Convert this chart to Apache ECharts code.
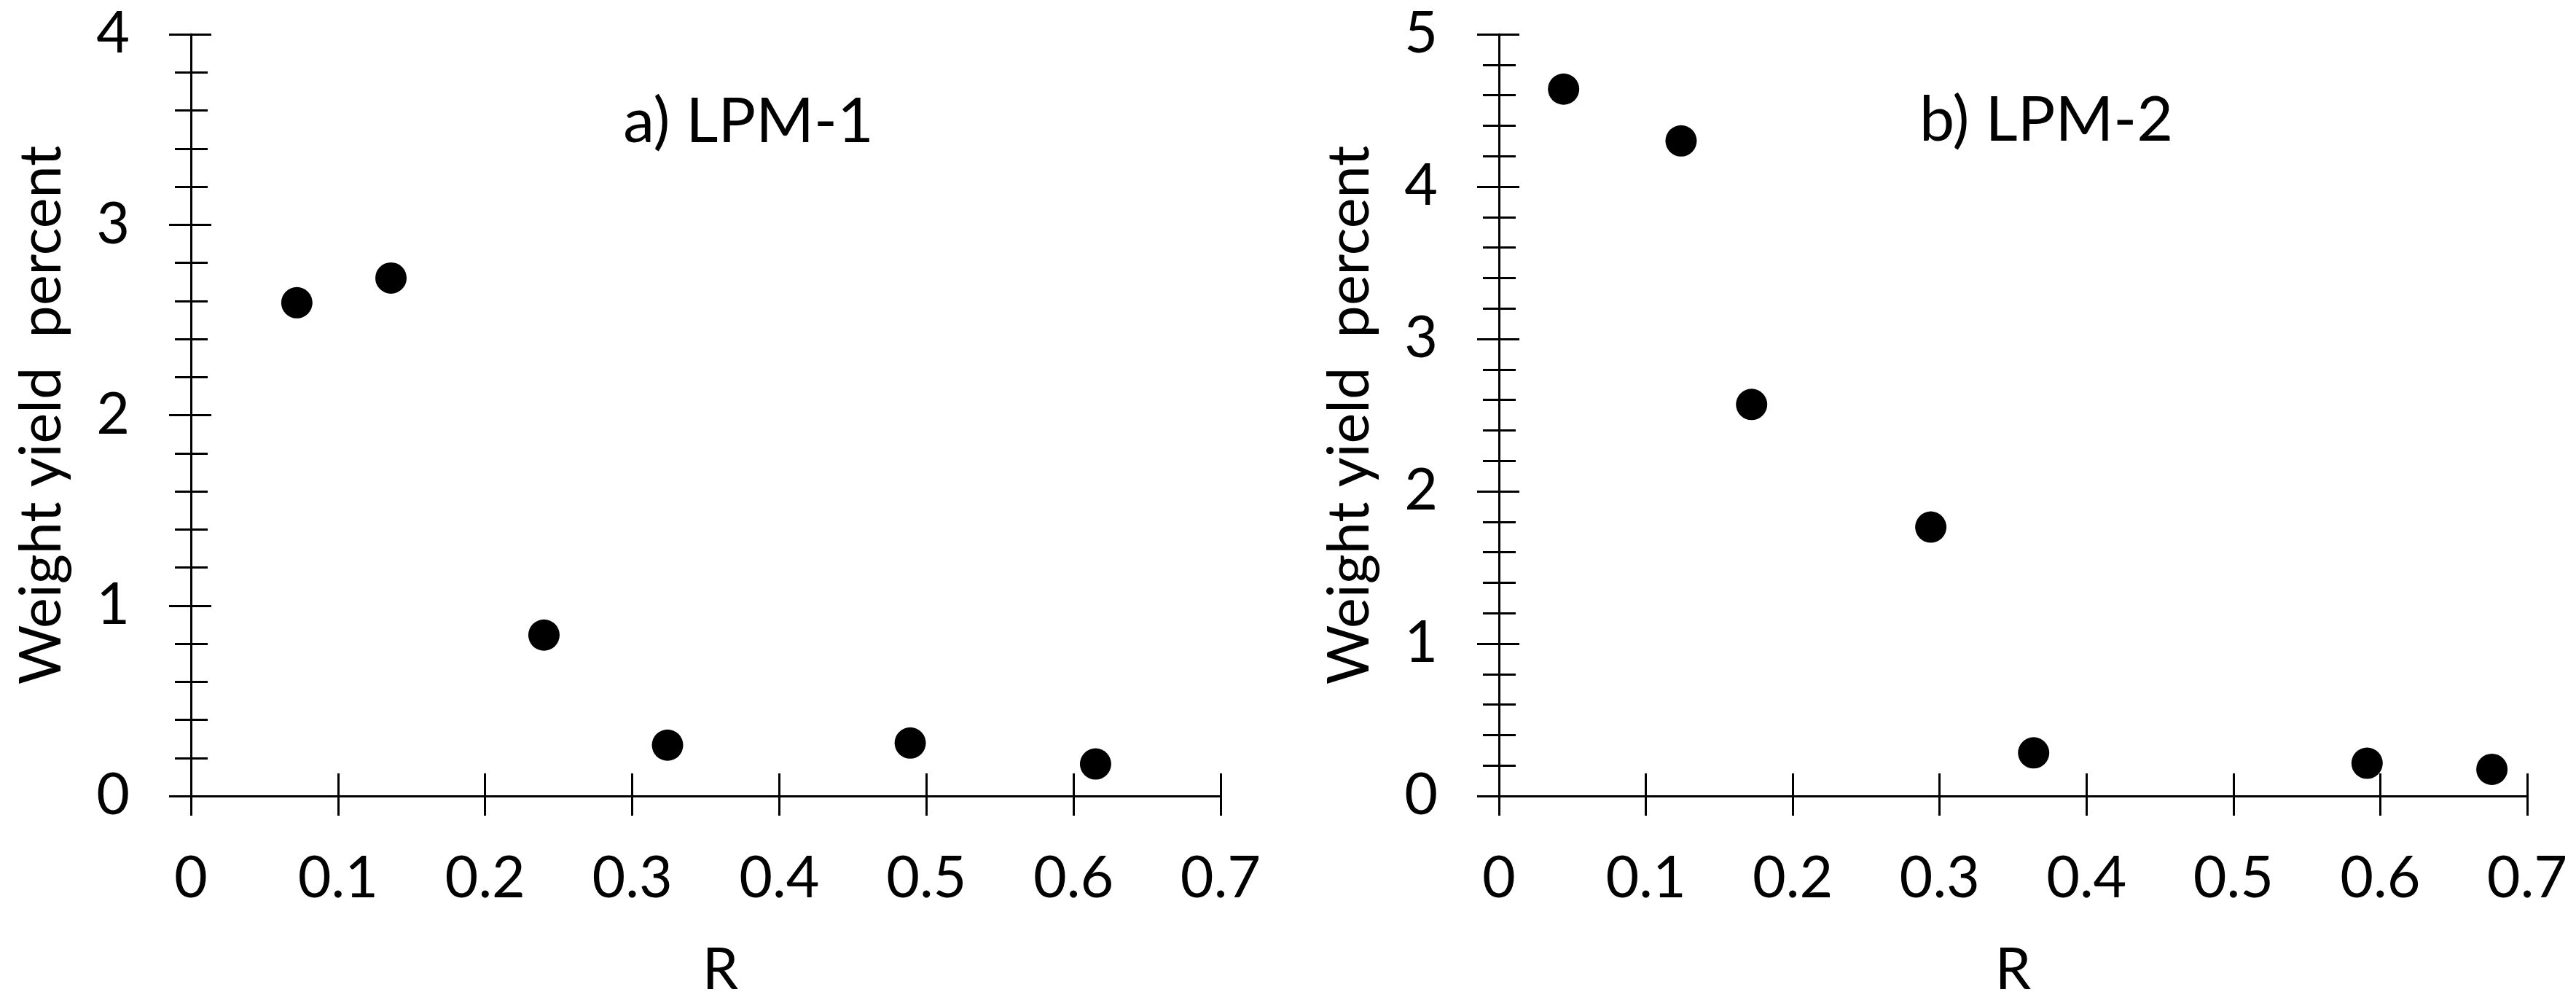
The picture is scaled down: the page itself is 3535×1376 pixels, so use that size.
<!DOCTYPE html>
<html>
<head>
<meta charset="utf-8">
<script src="https://cdn.jsdelivr.net/npm/echarts@6/dist/echarts.min.js"></script>
<style>
html,body{margin:0;padding:0;background:#fff;}
#chart{width:3535px;height:1376px;}
</style>
</head>
<body>
<div id="chart"></div>
<script>
// Panel a) LPM-1
const rA = [0.072, 0.136, 0.240, 0.324, 0.489, 0.615];
const yieldA = [2.59, 2.72, 0.845, 0.267, 0.278, 0.168];
// Panel b) LPM-2
const rB = [0.044, 0.124, 0.172, 0.294, 0.364, 0.591, 0.676];
const yieldB = [4.64, 4.30, 2.57, 1.765, 0.283, 0.215, 0.175];

const xTicks = [0, 0.1, 0.2, 0.3, 0.4, 0.5, 0.6, 0.7];
const panelTitles = ['a) LPM-1', 'b) LPM-2'];
const xName = 'R';
const yName = 'Weight yield  percent';
const yMaxes = [4, 5];

const FONT = 'Lato, "Open Sans", sans-serif';
const BLACK = '#000';
const LW = 3;

const chart = echarts.init(document.getElementById('chart'), null, {renderer: 'canvas'});

const grids = [
  {left: 262, top: 47, width: 1413, height: 1049},
  {left: 2057, top: 47, width: 1411, height: 1049}
];
const xNamePad = [[0, 0, 0, 40], [0, 0, 0, 0]];

const xAxes = [];
const yAxes = [];
for (let g = 0; g < 2; g++) {
  // main x axis: line, outward ticks, labels, name
  xAxes.push({
    type: 'value', gridIndex: g, position: 'bottom',
    min: xTicks[0], max: xTicks[xTicks.length - 1], interval: 0.1,
    axisLine: {show: true, onZero: false, lineStyle: {color: BLACK, width: LW}},
    axisTick: {show: true, inside: false, length: 27, lineStyle: {color: BLACK, width: LW}},
    axisLabel: {show: true, margin: 74, fontSize: 79, fontFamily: FONT, color: BLACK,
      formatter: v => String(Math.round(v * 10) / 10)},
    splitLine: {show: false},
    name: xName, nameLocation: 'middle', nameGap: 200,
    nameTextStyle: {fontSize: 79, fontFamily: FONT, color: BLACK, padding: xNamePad[g]}
  });
  // companion x axis: inward ticks only (ticks cross the axis)
  xAxes.push({
    type: 'value', gridIndex: g, position: 'bottom',
    min: xTicks[0], max: xTicks[xTicks.length - 1], interval: 0.1,
    axisLine: {show: false, onZero: false},
    axisTick: {show: true, inside: true, length: 31, lineStyle: {color: BLACK, width: LW}},
    axisLabel: {show: false},
    splitLine: {show: false}
  });
  yAxes.push({
    type: 'value', gridIndex: g, position: 'left',
    min: 0, max: yMaxes[g], interval: 1,
    axisLine: {show: true, onZero: false, lineStyle: {color: BLACK, width: LW}},
    axisTick: {show: true, inside: false, length: 30, lineStyle: {color: BLACK, width: LW}},
    minorTick: {show: true, splitNumber: 5, length: 22, lineStyle: {color: BLACK, width: LW}},
    axisLabel: {show: true, margin: 84, fontSize: 79, fontFamily: FONT, color: BLACK},
    splitLine: {show: false},
    minorSplitLine: {show: false},
    name: yName, nameLocation: 'middle', nameGap: 165, nameRotate: 90,
    nameTextStyle: {fontSize: 79, fontFamily: FONT, color: BLACK}
  });
  yAxes.push({
    type: 'value', gridIndex: g, position: 'left',
    min: 0, max: yMaxes[g], interval: 1,
    axisLine: {show: false, onZero: false},
    axisTick: {show: true, inside: true, length: 28, lineStyle: {color: BLACK, width: LW}},
    minorTick: {show: true, splitNumber: 5, length: 23, lineStyle: {color: BLACK, width: LW}},
    axisLabel: {show: false},
    splitLine: {show: false},
    minorSplitLine: {show: false}
  });
}

const option = {
  backgroundColor: '#fff',
  animation: false,
  grid: grids,
  xAxis: xAxes,
  yAxis: yAxes,
  graphic: [
    {type: 'text', x: 1027, y: 167, style: {text: panelTitles[0], font: '86px ' + FONT, fill: BLACK, textAlign: 'center', textVerticalAlign: 'middle'}},
    {type: 'text', x: 2808, y: 165, style: {text: panelTitles[1], font: '86px ' + FONT, fill: BLACK, textAlign: 'center', textVerticalAlign: 'middle'}}
  ],
  series: [
    {
      type: 'scatter', xAxisIndex: 0, yAxisIndex: 0,
      symbol: 'circle', symbolSize: 43,
      itemStyle: {color: BLACK, opacity: 1},
      emphasis: {disabled: true},
      data: rA.map((r, i) => [r, yieldA[i]])
    },
    {
      type: 'scatter', xAxisIndex: 2, yAxisIndex: 2,
      symbol: 'circle', symbolSize: 43,
      itemStyle: {color: BLACK, opacity: 1},
      emphasis: {disabled: true},
      data: rB.map((r, i) => [r, yieldB[i]])
    }
  ]
};
chart.setOption(option);
</script>
</body>
</html>
